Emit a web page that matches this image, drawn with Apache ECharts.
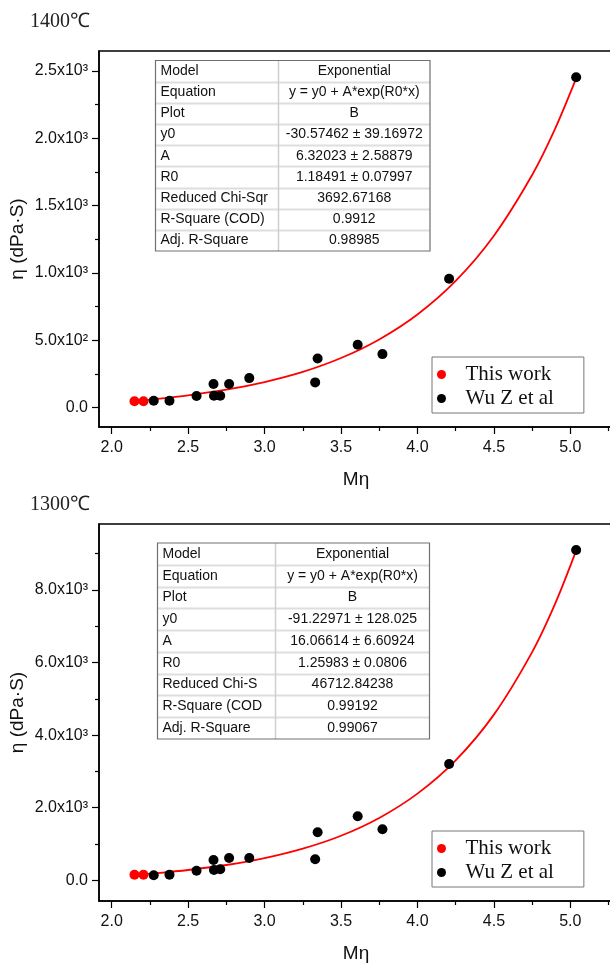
<!DOCTYPE html>
<html>
<head>
<meta charset="utf-8">
<script src="https://cdn.jsdelivr.net/npm/echarts@6/dist/echarts.min.js"></script>
<style>
  html, body { margin: 0; padding: 0; background: #fff; }
  #main { width: 610px; height: 964px; }
</style>
</head>
<body>
<div id="main"></div>
<script>
// data
var thisMeta = [2.149, 2.208];
var thisEta1400 = [48, 48];
var thisEta1300 = [154, 154];

var wuMeta = [2.275, 2.378, 2.555, 2.666, 2.669, 2.71, 2.768, 2.9, 3.331, 3.347, 3.609, 3.771, 4.207, 5.038];
var wuEta1400 = [52, 52, 87, 176, 89, 89, 176, 220, 188, 366, 468, 398, 958, 2453];
var wuEta1300 = [138, 156, 266, 560, 285, 303, 615, 615, 579, 1323, 1764, 1405, 3205, 9102];

// fitted curve
var fitMeta = [2.15, 2.3, 2.5, 2.75, 3.0, 3.25, 3.5, 3.75, 4.0, 4.25, 4.5, 4.75, 4.9, 5.04];
var fitEta1400 = [50, 66, 92, 134, 191, 266, 369, 507, 692, 941, 1277, 1728, 2070, 2450];
var fitEta1300 = [150, 200, 284, 422, 612, 873, 1229, 1719, 2389, 3307, 4566, 6290, 7618, 9107];

// ticks
var xMajor = [2.0, 2.5, 3.0, 3.5, 4.0, 4.5, 5.0];
var xLabels = ["2.0", "2.5", "3.0", "3.5", "4.0", "4.5", "5.0"];
var xMinor = [2.25, 2.75, 3.25, 3.75, 4.25, 4.75, 5.25];
var yMajor1400 = [0, 500, 1000, 1500, 2000, 2500];
var yLabels1400 = ["0.0", "5.0x10²", "1.0x10³", "1.5x10³", "2.0x10³", "2.5x10³"];
var yMinor1400 = [250, 750, 1250, 1750, 2250];
var yMajor1300 = [0, 2000, 4000, 6000, 8000];
var yLabels1300 = ["0.0", "2.0x10³", "4.0x10³", "6.0x10³", "8.0x10³"];
var yMinor1300 = [1000, 3000, 5000, 7000, 9000];

// fit result tables
var table1400 = [
  ["Model", "Exponential"],
  ["Equation", "y = y0 + A*exp(R0*x)"],
  ["Plot", "B"],
  ["y0", "-30.57462 ± 39.16972"],
  ["A", "6.32023 ± 2.58879"],
  ["R0", "1.18491 ± 0.07997"],
  ["Reduced Chi-Sqr", "3692.67168"],
  ["R-Square (COD)", "0.9912"],
  ["Adj. R-Square", "0.98985"]
];
var table1300 = [
  ["Model", "Exponential"],
  ["Equation", "y = y0 + A*exp(R0*x)"],
  ["Plot", "B"],
  ["y0", "-91.22971 ± 128.025"],
  ["A", "16.06614 ± 6.60924"],
  ["R0", "1.25983 ± 0.0806"],
  ["Reduced Chi-S", "46712.84238"],
  ["R-Square (COD", "0.99192"],
  ["Adj. R-Square", "0.99067"]
];

var SANS = "'Liberation Sans', Arial, sans-serif";
var SERIF = "'Liberation Serif', 'Times New Roman', serif";

function pairs(xs, ys) {
  return xs.map(function (x, i) { return [x, ys[i]]; });
}

function mainX(gridIndex) {
  return {
    type: "value", gridIndex: gridIndex, min: 1.917, max: 5.279,
    name: "Mη", nameLocation: "middle", nameGap: 43, nameMoveOverlap: false,
    nameTextStyle: { fontFamily: SANS, fontSize: 19, color: "#111" },
    axisLine: { show: true, onZero: false, lineStyle: { color: "#000", width: 1.5 } },
    axisTick: { show: true, customValues: xMajor, length: 7, lineStyle: { color: "#000", width: 1.2 } },
    axisLabel: {
      customValues: xMajor, margin: 13, fontFamily: SANS, fontSize: 16, color: "#111",
      formatter: function (v) { return xLabels[xMajor.indexOf(v)]; }
    },
    splitLine: { show: false }
  };
}

function minorX(gridIndex) {
  return {
    type: "value", gridIndex: gridIndex, min: 1.917, max: 5.279,
    axisLine: { show: false, onZero: false },
    axisTick: { show: true, customValues: xMinor, length: 4, lineStyle: { color: "#000", width: 1.2 } },
    axisLabel: { show: false },
    splitLine: { show: false }
  };
}

function mainY(gridIndex, min, max, ticks, labels) {
  return {
    type: "value", gridIndex: gridIndex, min: min, max: max,
    name: "η (dPa·S)", nameLocation: "middle", nameGap: 72, nameMoveOverlap: false,
    nameTextStyle: { fontFamily: SANS, fontSize: 19, color: "#111" },
    axisLine: { show: true, onZero: false, lineStyle: { color: "#000", width: 1.5 } },
    axisTick: { show: true, customValues: ticks, length: 7, lineStyle: { color: "#000", width: 1.2 } },
    axisLabel: {
      customValues: ticks, margin: 11, fontFamily: SANS, fontSize: 16, color: "#111",
      formatter: function (v) { return labels[ticks.indexOf(v)]; }
    },
    splitLine: { show: false }
  };
}

function minorY(gridIndex, min, max, ticks) {
  return {
    type: "value", gridIndex: gridIndex, min: min, max: max,
    axisLine: { show: false, onZero: false },
    axisTick: { show: true, customValues: ticks, length: 4, lineStyle: { color: "#000", width: 1.2 } },
    axisLabel: { show: false },
    splitLine: { show: false }
  };
}

function seriesFor(axisIndex, thisEta, wuEta, fitEta) {
  return [
    {
      name: "fit", type: "line", xAxisIndex: axisIndex, yAxisIndex: axisIndex,
      data: pairs(fitMeta, fitEta), smooth: 0.3,
      showSymbol: false, lineStyle: { color: "#ff0000", width: 1.8 }, z: 2
    },
    {
      name: "Wu Z et al", type: "scatter", xAxisIndex: axisIndex, yAxisIndex: axisIndex,
      data: pairs(wuMeta, wuEta), symbol: "circle", symbolSize: 10,
      itemStyle: { color: "#000", opacity: 1 }, z: 3
    },
    {
      name: "This work", type: "scatter", xAxisIndex: axisIndex, yAxisIndex: axisIndex,
      data: pairs(thisMeta, thisEta), symbol: "circle", symbolSize: 10,
      itemStyle: { color: "#ff0000", opacity: 1 }, z: 4
    }
  ];
}

function legendAt(top) {
  return {
    orient: "vertical", left: 432, top: top,
    data: ["This work", "Wu Z et al"],
    icon: "circle", itemWidth: 38, itemHeight: 9, itemGap: 3,
    padding: [7, 30, 4, 5],
    borderColor: "#777", borderWidth: 1, backgroundColor: "#fff",
    textStyle: { fontFamily: SERIF, fontSize: 21, color: "#111" },
    selectedMode: false
  };
}

function tableGraphic(rows, x0, x1, xd, y0, y1) {
  var els = [];
  var rowH = (y1 - y0) / rows.length;
  els.push({ type: "rect", shape: { x: x0, y: y0, width: x1 - x0, height: y1 - y0 },
    style: { fill: "#fff", stroke: "none" }, z: 10 });
  for (var i = 1; i < rows.length; i++) {
    var ly = Math.round(y0 + i * rowH) + 0.5;
    els.push({ type: "line", shape: { x1: x0, y1: ly, x2: x1, y2: ly },
      style: { stroke: "#dedede", lineWidth: 2 }, z: 11 });
  }
  els.push({ type: "line", shape: { x1: xd, y1: y0, x2: xd, y2: y1 },
    style: { stroke: "#cfcfcf", lineWidth: 1.5 }, z: 11 });
  els.push({ type: "rect", shape: { x: x0, y: y0, width: x1 - x0, height: y1 - y0 },
    style: { fill: "none", stroke: "#707070", lineWidth: 1.2 }, z: 12 });
  rows.forEach(function (r, i) {
    var cy = y0 + (i + 0.5) * rowH;
    els.push({ type: "text", x: x0 + 5, y: cy, z: 13,
      style: { text: r[0], font: "14px " + SANS, fill: "#111", align: "left", verticalAlign: "middle" } });
    els.push({ type: "text", x: (xd + x1) / 2, y: cy, z: 13,
      style: { text: r[1], font: "14px " + SANS, fill: "#111", align: "center", verticalAlign: "middle" } });
  });
  return els;
}

var chart = echarts.init(document.getElementById("main"), null, { renderer: "canvas" });

var gridBase = { left: 99, width: 514, outerBoundsMode: "none", containLabel: false };

var option = {
  backgroundColor: "#fff",
  animation: false,
  title: [
    { text: "1400℃", left: 30, top: 12, padding: 0,
      textStyle: { fontFamily: SERIF, fontSize: 20, fontWeight: "normal", color: "#222" } },
    { text: "1300℃", left: 30, top: 495, padding: 0,
      textStyle: { fontFamily: SERIF, fontSize: 20, fontWeight: "normal", color: "#222" } }
  ],
  grid: [
    Object.assign({}, gridBase, { top: 51, height: 376, show: true, borderColor: "#000", borderWidth: 1.5 }),
    Object.assign({}, gridBase, { top: 51, height: 376 }),
    Object.assign({}, gridBase, { top: 524, height: 377, show: true, borderColor: "#000", borderWidth: 1.5 }),
    Object.assign({}, gridBase, { top: 524, height: 377 })
  ],
  xAxis: [mainX(0), minorX(1), mainX(2), minorX(3)],
  yAxis: [
    mainY(0, -143, 2648, yMajor1400, yLabels1400),
    minorY(1, -143, 2648, yMinor1400),
    mainY(2, -570, 9819, yMajor1300, yLabels1300),
    minorY(3, -570, 9819, yMinor1300)
  ],
  legend: [legendAt(357), legendAt(831)],
  graphic: tableGraphic(table1400, 155.5, 430, 278.5, 60.5, 251)
    .concat(tableGraphic(table1300, 157.5, 429.5, 275.5, 543, 739)),
  series: seriesFor(0, thisEta1400, wuEta1400, fitEta1400)
    .concat(seriesFor(2, thisEta1300, wuEta1300, fitEta1300))
};

chart.setOption(option);
</script>
</body>
</html>
